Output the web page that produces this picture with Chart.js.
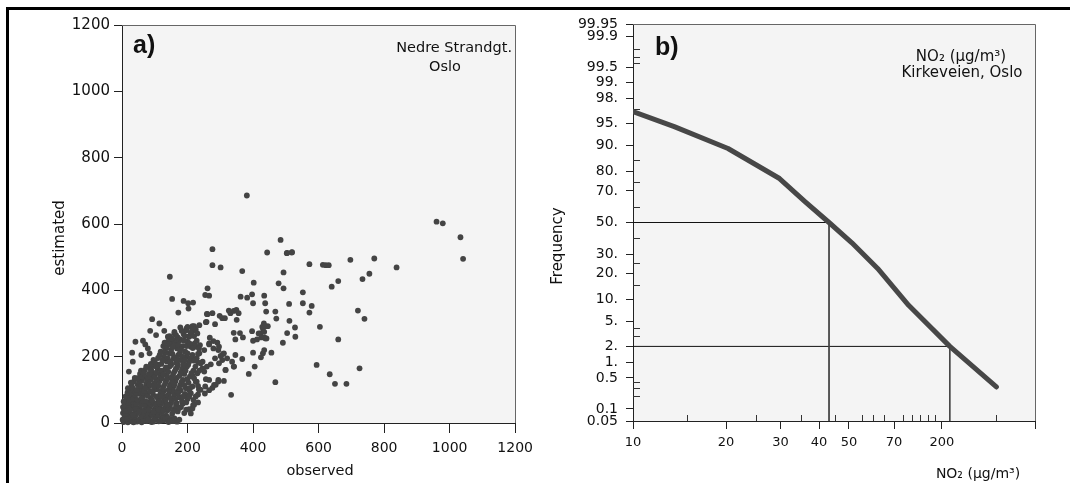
<!DOCTYPE html>
<html>
<head>
<meta charset="utf-8">
<script src="https://cdn.jsdelivr.net/npm/chart.js@4/dist/chart.umd.min.js"></script>
<style>
  html, body { margin: 0; padding: 0; background: #fff; }
  #wrap { position: relative; width: 1070px; height: 483px; overflow: hidden; }
  #chartA { position: absolute; left: 0; top: 0; }
  #chartB { position: absolute; left: 540px; top: 0; }
  #frame {
    position: absolute; left: 6px; top: 7px; width: 1070px; height: 480px;
    border-top: 3px solid #000; border-left: 3px solid #000; pointer-events: none;
  }
</style>
</head>
<body>
<div id="wrap">
  <canvas id="chartA" width="540" height="483"></canvas>
  <canvas id="chartB" width="530" height="483"></canvas>
  <div id="frame"></div>
</div>
<script>
// ---- a) observed vs estimated, Nedre Strandgt.
const axisTicksA = [0, 200, 400, 600, 800, 1000, 1200];

// sparse points [observed, estimated]
const sparsePoints = [
  [381,686],[960,607],[979,602],[1033,560],[1041,495],[838,469],[770,496],[755,450],[734,434],
  [740,314],[720,339],[697,492],[725,165],[484,552],[519,515],[504,513],[443,514],[503,512],
  [518,514],[276,524],[276,476],[301,469],[367,458],[493,454],[572,479],[613,477],[622,476],
  [631,476],[660,428],[640,411],[146,441],[153,374],[188,368],[202,361],[217,363],[203,345],
  [172,333],[261,406],[254,386],[266,384],[402,423],[478,421],[493,406],[362,381],[382,378],
  [397,388],[434,384],[437,361],[400,361],[468,336],[471,315],[440,336],[510,359],[552,394],
  [552,361],[579,353],[572,333],[604,290],[660,252],[594,175],[634,147],[650,118],[685,118],
  [468,123],[333,85],[511,308],[528,288],[529,260],[491,242],[504,271],[350,311],[360,271],
  [438,255],[422,270],[428,290],[433,300],[445,292]
];

// middle band
const midPoints = [
  [276,331],[261,328],[298,323],[306,316],[314,316],[331,331],[341,338],[349,341],[356,331],
  [284,298],[258,305],[236,295],[220,292],[225,282],[213,275],[205,260],[197,282],[341,272],
  [346,252],[369,258],[397,277],[400,248],[417,270],[425,258],[430,285],[437,292],[434,275],
  [434,258],[441,255],[412,252],[434,220],[430,210],[424,198],[456,212],[400,212],[405,170],
  [387,148],[367,193],[346,205],[341,170],[316,160],[296,180],[284,195],[291,242],[279,247],
  [268,257],[266,237],[279,225],[294,220],[301,202],[308,208],[311,127],[294,125],[281,115],
  [276,106],[256,132],[254,110],[253,89],[219,190],[233,182],[246,185],[259,170],[271,177],
  [236,210],[225,230],[238,235],[251,220],[215,143],[225,124],[236,101],[232,86],[205,100],
  [217,54],[215,44],[210,29],[198,84],[41,245],[64,248],[71,237],[79,225],[86,278],[104,265],
  [129,278],[140,260],[150,248],[160,270],[178,252],[197,285],[215,292],[223,280],[230,270],
  [31,212],[33,185],[21,155],[59,205],[84,210],[92,313],[114,300],[256,304],[259,329],
  [326,339],[266,240],[296,230],[311,210],[321,195],[306,190],[336,185],[251,155],[266,130],
  [286,115],[266,99],[294,130],[316,160],[342,170],[235,102]
];

// dense cluster near the origin
const clusterPoints = [
  [5,3],[12,8],[18,2],[25,12],[30,5],[38,15],[45,4],[52,10],[60,2],[68,14],[75,6],[83,18],
  [90,3],[98,11],[105,20],[112,5],[120,15],[128,8],[135,22],[142,3],[150,12],[156,6],[168,4],
  [8,18],[20,22],[3,30],
  [2,10],[15,14],[28,20],[35,2],[42,24],[58,18],[65,6],[72,22],[80,10],[88,26],[95,4],
  [102,14],[110,24],[118,6],[125,18],[132,12],[140,16],[147,6],[160,14],[175,10],
  [6,40],[10,28],[15,45],[22,35],[28,48],[33,25],[40,38],[47,30],[55,45],[62,28],[70,40],
  [78,32],[85,48],[92,26],[100,42],[108,35],[115,48],[122,30],[130,44],[138,38],[146,50],
  [153,28],[160,42],[170,35],[180,48],[190,30],[205,42],[220,55],
  [3,48],[12,36],[18,52],[25,40],[36,55],[44,44],[52,34],[58,55],[66,36],[74,50],[82,40],
  [90,56],[96,34],[104,52],[112,40],[119,58],[126,38],[134,52],[142,42],[150,60],[157,36],
  [165,52],[175,45],[185,58],[196,40],
  [8,55],[14,70],[20,60],[26,82],[32,65],[38,78],[44,58],[50,88],[57,68],[63,80],[69,55],
  [75,90],[82,62],[88,75],[95,85],[102,58],[110,72],[117,88],[124,64],[131,80],[138,56],
  [145,92],[152,70],[160,85],[167,60],[175,78],[183,66],[192,88],[200,72],[210,90],[225,80],
  [232,62],
  [5,65],[11,80],[17,92],[23,70],[29,95],[35,72],[41,86],[47,70],[53,98],[60,75],[66,92],
  [72,66],[78,82],[85,95],[92,68],[98,100],[105,80],[113,64],[120,80],[127,96],[134,70],
  [141,84],[148,76],[156,96],[163,72],[171,90],[179,98],[187,80],[196,62],[205,80],[218,70],
  [24,100],[30,112],[36,125],[42,92],[48,115],[55,105],[61,128],[68,98],[74,118],[80,108],
  [87,130],[93,95],[100,120],[107,102],[114,126],[121,96],[128,112],[135,128],[142,100],
  [149,118],[156,108],[163,126],[170,96],[178,115],[186,130],[195,105],[203,122],[215,110],
  [228,125],[240,100],
  [18,105],[27,122],[33,104],[39,136],[45,100],[52,124],[58,112],[65,138],[71,106],[77,128],
  [84,116],[90,138],[97,110],[104,132],[111,112],[118,138],[125,104],[132,120],[139,136],
  [146,110],[153,128],[160,116],[167,136],[174,106],[182,124],[190,114],[199,132],[208,106],
  [220,135],[232,112],
  [48,135],[55,148],[62,140],[70,160],[78,138],[85,165],[92,150],[100,140],[108,165],
  [115,148],[122,135],[130,160],[137,145],[145,170],[152,138],[160,155],[168,168],[175,142],
  [183,160],[190,148],[198,170],[207,140],[218,158],[230,150],[245,165],
  [58,158],[66,150],[74,170],[82,148],[89,160],[96,172],[104,152],[111,176],[119,158],
  [126,146],[134,168],[141,155],[149,180],[156,148],[164,162],[171,176],[179,152],[186,168],
  [194,158],[202,176],[212,150],[224,170],[236,158],
  [88,178],[96,190],[104,172],[110,196],[120,178],[128,200],[136,186],[144,210],[150,175],
  [158,195],[165,182],[172,205],[180,190],[188,178],[196,200],[205,185],[215,205],[228,195],
  [240,180],
  [100,185],[115,205],[124,190],[132,212],[140,195],[147,185],[154,208],[162,198],[169,190],
  [177,212],[184,200],[192,190],[200,210],[210,196],[220,188],[232,208],
  [118,215],[126,232],[132,222],[140,245],[150,220],[160,240],[168,225],[175,248],[185,232],
  [193,215],[200,245],[210,230],[222,240],[235,225],
  [130,242],[137,228],[145,238],[155,230],[164,250],[172,235],[180,222],[190,248],[197,232],
  [206,240],[216,226],[228,248],
  [145,262],[152,255],[160,275],[170,258],[178,288],[188,268],[196,280],[205,262],[215,284],
  [165,265],[182,278],[192,262],[200,290],[210,272],[220,262]
];

// ---- b) NO2 cumulative frequency, Kirkeveien
const no2Levels   = [10, 13.6, 20.3, 24.6, 29.8, 36.1, 43.1, 51.1, 61.9, 78.0, 106, 150];
const cumFreqPct  = [96.7, 94.4, 89.0, 83.6, 76.7, 63.4, 50, 36.8, 22.3, 8.5, 2.0, 0.32];
const markerNo2   = [43.1, 106];
const markerFreq  = [50, 2];

const no2TickValues = [10, 20, 30, 40, 50, 70, 100, 200];
const no2TickLabels = ['10', '20', '30', '40', '50', '70', '200', ''];
const no2MinorTicks = [15, 25, 35, 45, 55, 60, 65, 75, 80, 85, 90, 95, 150];

const freqTickValues = [99.95, 99.9, 99.5, 99, 98, 95, 90, 80, 70, 50, 30, 20, 10, 5, 2, 1, 0.5, 0.1, 0.05];
const freqTickLabels = ['99.95', '99.9', '99.5', '99.', '98.', '95.', '90.', '80.', '70.', '50.',
                        '30.', '20.', '10.', '5.', '2.', '1.', '0.5', '0.1', '0.05'];
const freqMinorTicks = [99.8, 99.7, 99.6, 97, 85, 75, 60, 40, 25, 15, 4, 3, 0.4, 0.3, 0.2];

// inverse normal cdf (Acklam), used for the probability axis
function probit(p) {
  const a = [-3.969683028665376e+01, 2.209460984245205e+02, -2.759285104469687e+02, 1.383577518672690e+02, -3.066479806614716e+01, 2.506628277459239e+00];
  const b = [-5.447609879822406e+01, 1.615858368580409e+02, -1.556989798598866e+02, 6.680131188771972e+01, -1.328068155288572e+01];
  const c = [-7.784894002430293e-03, -3.223964580411365e-01, -2.400758277161838e+00, -2.549732539343734e+00, 4.374664141464968e+00, 2.938163982698783e+00];
  const d = [7.784695709041462e-03, 3.224671290700398e-01, 2.445134137142996e+00, 3.754408661907416e+00];
  const pl = 0.02425, ph = 1 - pl;
  let q, r;
  if (p < pl) {
    q = Math.sqrt(-2 * Math.log(p));
    return (((((c[0]*q+c[1])*q+c[2])*q+c[3])*q+c[4])*q+c[5]) / ((((d[0]*q+d[1])*q+d[2])*q+d[3])*q+1);
  }
  if (p > ph) {
    q = Math.sqrt(-2 * Math.log(1 - p));
    return -(((((c[0]*q+c[1])*q+c[2])*q+c[3])*q+c[4])*q+c[5]) / ((((d[0]*q+d[1])*q+d[2])*q+d[3])*q+1);
  }
  q = p - 0.5; r = q * q;
  return (((((a[0]*r+a[1])*r+a[2])*r+a[3])*r+a[4])*r+a[5])*q / (((((b[0]*r+b[1])*r+b[2])*r+b[3])*r+b[4])*r+1);
}
const z = pct => probit(pct / 100);

Chart.defaults.font.family = 'DejaVu Sans';
Chart.defaults.color = '#111';

// light plot background and thin top/right frame
const plotFrame = {
  id: 'plotFrame',
  beforeDraw(chart) {
    const { ctx, chartArea: a } = chart;
    ctx.save();
    ctx.fillStyle = '#f4f4f4';
    ctx.fillRect(a.left, a.top, a.right - a.left, a.bottom - a.top);
    ctx.restore();
  },
  beforeDatasetsDraw(chart) {
    const { ctx, chartArea: a } = chart;
    const t = Math.round(a.top) + 0.5, r = Math.round(a.right) + 0.5;
    ctx.save();
    ctx.strokeStyle = '#666';
    ctx.lineWidth = 1;
    ctx.beginPath();
    ctx.moveTo(a.left, t); ctx.lineTo(r, t); ctx.lineTo(r, a.bottom);
    ctx.stroke();
    ctx.restore();
  }
};

function textPlugin(items) {
  return {
    id: 'textItems',
    afterDraw(chart) {
      const ctx = chart.ctx;
      items.forEach(t => {
        ctx.save();
        ctx.font = t.font;
        ctx.fillStyle = '#111';
        ctx.textAlign = t.align || 'center';
        ctx.textBaseline = t.rot ? 'middle' : 'alphabetic';
        ctx.translate(t.x, t.y);
        if (t.rot) ctx.rotate(t.rot);
        ctx.fillText(t.text, 0, 0);
        ctx.restore();
      });
    }
  };
}

// small inward ticks on the probability plot
const minorTickPlugin = {
  id: 'minorTicks',
  beforeDatasetsDraw(chart) {
    const { ctx, chartArea: a, scales } = chart;
    ctx.save();
    ctx.strokeStyle = '#333';
    ctx.lineWidth = 1;
    ctx.beginPath();
    no2MinorTicks.forEach(v => {
      const px = Math.round(scales.x.getPixelForValue(v)) + 0.5;
      ctx.moveTo(px, a.bottom); ctx.lineTo(px, a.bottom - 6);
    });
    freqMinorTicks.forEach(f => {
      const py = Math.round(scales.y.getPixelForValue(z(f))) + 0.5;
      ctx.moveTo(a.left, py); ctx.lineTo(a.left + 7, py);
    });
    ctx.stroke();
    ctx.restore();
  }
};

const allPoints = sparsePoints.concat(midPoints, clusterPoints);

new Chart(document.getElementById('chartA'), {
  type: 'scatter',
  data: {
    datasets: [{
      data: allPoints.map(p => ({ x: p[0], y: p[1] })),
      pointRadius: 2.9, pointHoverRadius: 2.9,
      pointBackgroundColor: '#444', pointBorderWidth: 0,
      clip: false
    }]
  },
  options: {
    responsive: false, animation: false, events: [],
    layout: { autoPadding: false, padding: { left: 0, top: 25, right: 22, bottom: 0 } },
    plugins: { legend: { display: false }, tooltip: { enabled: false } },
    scales: {
      x: {
        type: 'linear', min: 0, max: 1200,
        afterFit: s => { s.height = 60; },
        afterBuildTicks: s => { s.ticks = axisTicksA.map(v => ({ value: v })); },
        ticks: { padding: 7, maxRotation: 0, autoSkip: false, font: { size: 14 },
                 callback: v => String(v) },
        grid: { drawOnChartArea: false, tickLength: 10, color: '#222' },
        border: { color: '#222' }
      },
      y: {
        type: 'linear', min: 0, max: 1200,
        afterFit: s => { s.width = 122; },
        afterBuildTicks: s => { s.ticks = axisTicksA.map(v => ({ value: v })); },
        ticks: { padding: 4, autoSkip: false, font: { size: 15 },
                 callback: v => String(v) },
        grid: { drawOnChartArea: false, tickLength: 8, color: '#222' },
        border: { color: '#222' }
      }
    }
  },
  plugins: [plotFrame, textPlugin([
    { text: 'a)', x: 133, y: 53, font: 'bold 25px "Liberation Sans"', align: 'left' },
    { text: 'Nedre Strandgt.', x: 512, y: 52, font: '14.5px "DejaVu Sans"', align: 'right' },
    { text: 'Oslo', x: 445, y: 71, font: '14.5px "DejaVu Sans"' },
    { text: 'estimated', x: 60, y: 238, font: '15px "DejaVu Sans"', rot: -Math.PI / 2 },
    { text: 'observed', x: 320, y: 475, font: '14.5px "DejaVu Sans"' }
  ])]
});

const curve = no2Levels.map((v, i) => ({ x: v, y: z(cumFreqPct[i]) }));
const refLines = [];
markerNo2.forEach((v, i) => {
  refLines.push({
    data: [{ x: no2TickValues[0], y: z(markerFreq[i]) }, { x: v, y: z(markerFreq[i]) }],
    showLine: true, borderColor: '#111', borderWidth: 1, pointRadius: 0
  });
  refLines.push({
    data: [{ x: v, y: z(markerFreq[i]) }, { x: v, y: z(freqTickValues[freqTickValues.length - 1]) }],
    showLine: true, borderColor: '#444', borderWidth: 1, pointRadius: 0
  });
});

new Chart(document.getElementById('chartB'), {
  type: 'scatter',
  data: {
    datasets: [{
      data: curve, showLine: true, borderColor: '#474747', borderWidth: 5,
      pointRadius: 0, borderCapStyle: 'round', borderJoinStyle: 'round'
    }].concat(refLines)
  },
  options: {
    responsive: false, animation: false, events: [],
    layout: { autoPadding: false, padding: { left: 0, top: 24, right: 35, bottom: 0 } },
    plugins: { legend: { display: false }, tooltip: { enabled: false } },
    scales: {
      x: {
        type: 'logarithmic', min: 10, max: 200,
        afterFit: s => { s.height = 62; },
        afterBuildTicks: s => { s.ticks = no2TickValues.map(v => ({ value: v })); },
        ticks: { padding: 6, maxRotation: 0, autoSkip: false, font: { size: 13 },
                 callback: (v, i) => no2TickLabels[i] },
        grid: { drawOnChartArea: false, tickLength: 8, color: '#222' },
        border: { color: '#222' }
      },
      y: {
        type: 'linear', min: z(0.05), max: z(99.95),
        afterFit: s => { s.width = 93; },
        afterBuildTicks: s => { s.ticks = freqTickValues.map(f => ({ value: z(f) })); },
        ticks: { padding: 8, autoSkip: false, font: { size: 14 },
                 callback: (v, i) => freqTickLabels[i] },
        grid: { drawOnChartArea: false, tickLength: 7, color: '#222' },
        border: { color: '#222' }
      }
    }
  },
  plugins: [plotFrame, minorTickPlugin, textPlugin([
    { text: 'b)', x: 115, y: 55, font: 'bold 25px "Liberation Sans"', align: 'left' },
    { text: 'NO\u2082 (\u00b5g/m\u00b3)', x: 421, y: 61, font: '15px "DejaVu Sans"' },
    { text: 'Kirkeveien, Oslo', x: 422, y: 77, font: '15px "DejaVu Sans"' },
    { text: 'Frequency', x: 18, y: 246, font: '15px "DejaVu Sans"', rot: -Math.PI / 2 },
    { text: 'NO\u2082 (\u00b5g/m\u00b3)', x: 438, y: 478, font: '14px "DejaVu Sans"' }
  ])]
});
</script>
</body>
</html>
